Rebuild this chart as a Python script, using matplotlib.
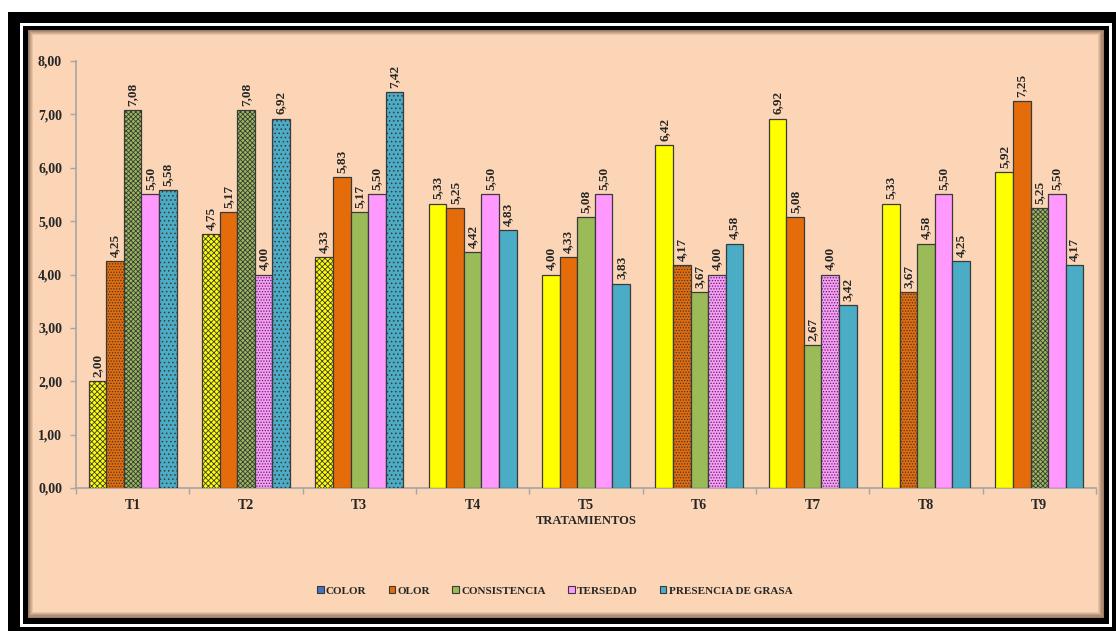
import matplotlib.pyplot as plt
import matplotlib.patches as mpatches
import numpy as np

plt.rcParams['font.family'] = ['Liberation Serif', 'DejaVu Serif']
plt.rcParams['font.weight'] = 'bold'
plt.rcParams['hatch.linewidth'] = 0.6

tratamientos = ["T1", "T2", "T3", "T4", "T5", "T6", "T7", "T8", "T9"]
series = ["COLOR", "OLOR", "CONSISTENCIA", "TERSEDAD", "PRESENCIA DE GRASA"]
color_v = [2.00, 4.75, 4.33, 5.33, 4.00, 6.42, 6.92, 5.33, 5.92]
olor_v = [4.25, 5.17, 5.83, 5.25, 4.33, 4.17, 5.08, 3.67, 7.25]
consistencia_v = [7.08, 7.08, 5.17, 4.42, 5.08, 3.67, 2.67, 4.58, 5.25]
tersedad_v = [5.50, 4.00, 5.50, 5.50, 5.50, 4.00, 4.00, 5.50, 5.50]
grasa_v = [5.58, 6.92, 7.42, 4.83, 3.83, 4.58, 3.42, 4.25, 4.17]
values = [color_v, olor_v, consistencia_v, tersedad_v, grasa_v]

# styling
bar_colors = ["#FFFF00", "#E46C0A", "#9BBB59", "#FF99FF", "#4BACC6"]
legend_colors = ["#4472C4", "#E46C0A", "#9BBB59", "#FF99FF", "#4BACC6"]
hatch_style = ["xxxxxx", "......", "xxxxxxx", "......", "...."]
# which treatments use the patterned fill, per series
patterned = [
    {0, 1, 2},
    {0, 5, 7},
    {0, 1, 8},
    {1, 5, 6},
    {0, 1, 2},
]
txt = "#262626"

fig = plt.figure(figsize=(11.16, 6.31), dpi=100)
fig.patch.set_facecolor("white")
W, H = 1116, 631


def frame(x0, y0, x1, y1, fc, z):
    r = mpatches.Rectangle((x0 / W, 1 - y1 / H), (x1 - x0) / W, (y1 - y0) / H,
                           transform=fig.transFigure, facecolor=fc,
                           edgecolor="none", zorder=z)
    fig.patches.append(r)


frame(8, 12, 1116, 631, "black", 0)
frame(20, 23, 1112, 627, "white", 1)
frame(23, 26, 1109, 624, "black", 2)
frame(28, 30, 1104, 618, "#8a6a55", 3)
# soft inner shadow
steps = 6
for i in range(steps):
    t = (i + 1) / steps
    c = np.array([0x8a, 0x6a, 0x55]) * (1 - t) + np.array([0xFB, 0xD5, 0xB5]) * t
    frame(28 + i, 30 + i, 1104 - i * 1.3, 618 - i * 1.3,
          "#%02x%02x%02x" % tuple(int(v) for v in c), 3 + i * 0.01)

ax = fig.add_axes([76 / W, 1 - 488 / H, 1020 / W, 427 / H])
ax.set_facecolor("none")
ax.set_zorder(10)

x = np.arange(len(tratamientos))
bw = 0.155
for i, (name, vals) in enumerate(zip(series, values)):
    pos = x + (i - 2) * bw
    for j, (p, v) in enumerate(zip(pos, vals)):
        h = hatch_style[i] if j in patterned[i] else None
        ax.bar(p, v, width=bw, color=bar_colors[i], edgecolor="#3a3a3a",
               linewidth=0.9, hatch=h, zorder=3)
        ax.annotate(f"{v:.2f}".replace(".", ","), (p, v), xytext=(0, 3),
                    textcoords="offset points", rotation=90, ha="center",
                    va="bottom", fontsize=9.5, fontweight="bold", color=txt)

ax.set_xlim(-0.5, len(tratamientos) - 0.5)
ax.set_ylim(0, 8)
ax.set_yticks(np.arange(0, 9, 1))
ax.set_yticklabels([f"{v:.2f}".replace(".", ",") for v in np.arange(0, 9, 1)],
                   fontsize=10, fontweight="bold", color=txt)
ax.set_xticks(x)
ax.set_xticklabels(tratamientos, fontsize=10, fontweight="bold", color=txt)
ax.set_xticks(np.arange(-0.5, len(tratamientos), 1), minor=True)
ax.tick_params(axis="x", which="major", length=0, pad=8)
ax.tick_params(axis="x", which="minor", length=4, color="#A6A6A6", width=1)
ax.tick_params(axis="y", length=4, color="#A6A6A6", width=1, pad=6)
for s in ["top", "right"]:
    ax.spines[s].set_visible(False)
for s in ["left", "bottom"]:
    ax.spines[s].set_color("#A6A6A6")
    ax.spines[s].set_linewidth(1.2)
ax.set_xlabel("TRATAMIENTOS", fontsize=9, fontweight="bold", color=txt,
              labelpad=2)

handles = [mpatches.Patch(facecolor=c, edgecolor="#3a3a3a", linewidth=0.8)
           for c in legend_colors]
fig.legend(handles, series, loc="center", bbox_to_anchor=(0.497, 1 - 591 / H),
           ncol=5, frameon=False, handlelength=0.6, handleheight=0.6,
           handletextpad=0.2, columnspacing=2.0,
           prop={"size": 8, "weight": "bold"}, labelcolor=txt)

fig.savefig("out.png", dpi=100, facecolor="white")
